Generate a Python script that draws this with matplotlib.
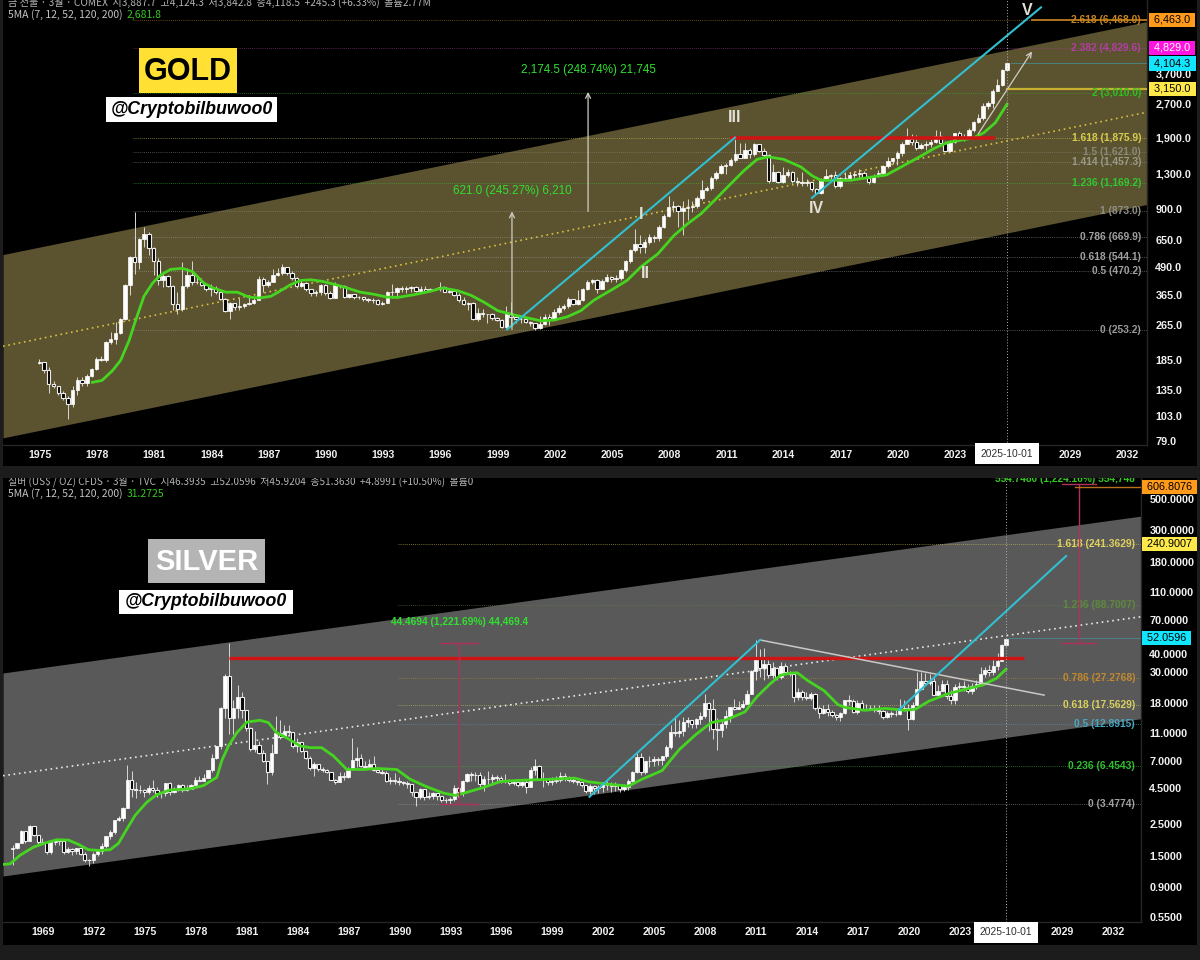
"""Gold and silver quarterly charts with channels and fib levels."""

import numpy as np
import matplotlib
matplotlib.use("Agg")
import matplotlib.pyplot as plt
from matplotlib.patches import Rectangle

W, H = 1200, 960
LABEL_FONT = "Liberation Sans"
HEADER_FONT = ["Noto Sans CJK KR", "DejaVu Sans"]

# Gold, quarterly from 1975
gold_first_year = 1974.96
gold_close = [
    180, 167, 143, 140, 131, 124, 116, 135, 150, 145, 156, 168, 187, 184, 222, 229, 245, 283, 405, 540,
    516, 654, 686, 596, 522, 427, 442, 398, 331, 315, 401, 451, 419, 419, 405, 388, 393, 376, 350, 307,
    334, 320, 326, 330, 334, 344, 432, 405, 419, 449, 457, 487, 457, 434, 398, 412, 386, 372, 376, 403,
    372, 354, 405, 398, 357, 367, 357, 357, 350, 346, 344, 331, 336, 376, 376, 393,
    386, 390, 394, 379, 389, 381, 386, 386, 396, 377, 379, 363, 346, 332, 335, 284, 303, 300, 300, 286,
    280, 260, 300, 289, 282, 284, 274, 271, 258, 268, 289, 284,
    306, 317, 324, 351, 331, 345, 387, 417, 425, 387, 421, 440, 430, 437, 471, 519, 584, 618, 601, 637,
    667, 660, 745, 835, 917, 925, 875, 905, 917, 925, 1005, 1090, 1112, 1244, 1300, 1405, 1420, 1490, 1600, 1532,
    1655, 1586, 1760, 1642, 1575, 1202, 1320, 1190, 1280, 1320, 1195, 1183, 1170, 1183, 1100, 1060, 1220, 1270, 1275, 1140,
    1235, 1235, 1280, 1288, 1310, 1244, 1183, 1270, 1300, 1405, 1475, 1520, 1612, 1770,
    1860, 1810, 1690, 1750, 1763, 1810, 1922, 1793, 1644, 1810, 1974, 1887, 1900, 2045, 2222, 2326, 2640, 2716, 3090, 3263,
    3850, 4118.5,
]
gold_high = [
    187, 180, 172, 148, 141, 133, 126, 141, 155, 155, 160, 169, 190, 192, 224, 248, 274, 287, 410, 545,
    868, 663, 742, 702, 600, 535, 463, 447, 403, 376, 512, 483, 522, 447, 436, 403, 408, 402, 376, 353,
    338, 334, 353, 334, 362, 353, 442, 438, 427, 479, 483, 504, 490, 468, 438, 424, 417, 389, 385, 410,
    408, 380, 417, 403, 403, 368, 368, 362, 356, 353, 353, 350, 341, 381, 410, 395,
    402, 402, 402, 399, 402, 402, 392, 392, 419, 401, 392, 384, 370, 355, 337, 340, 317, 314, 300, 303,
    290, 283, 325, 337, 300, 293, 290, 276, 273, 293, 298, 298,
    313, 327, 333, 357, 347, 385, 392, 428, 432, 432, 430, 455, 443, 448, 480, 526, 590, 727, 679, 655,
    686, 679, 761, 850, 1022, 976, 936, 969, 993, 976, 1028, 1209, 1141, 1266, 1334, 1429, 1445, 1522, 1925, 1795,
    1795, 1700, 1783, 1770, 1690, 1586, 1429, 1334, 1390, 1358, 1334, 1252, 1312, 1222, 1170, 1114, 1235, 1358, 1297, 1326,
    1252, 1312, 1312, 1334, 1358, 1334, 1252, 1288, 1342, 1420, 1543, 1532, 1642, 1810,
    2080, 1955, 1942, 1790, 1825, 1860, 2056, 2023, 1825, 1838, 1990, 2035, 1955, 2100, 2247, 2407, 2717, 2766, 3158, 3497,
    3890, 4124.3,
]
gold_low = [
    177, 161, 130, 137, 128, 122, 100, 113, 128, 140, 141, 155, 166, 183, 180, 218, 217, 241, 280, 365,
    454, 477, 600, 555, 447, 403, 395, 395, 310, 299, 308, 393, 403, 408, 398, 380, 362, 368, 345, 304,
    284, 310, 310, 318, 327, 330, 345, 376, 395, 417, 442, 451, 451, 427, 393, 395, 381, 362, 362, 366,
    366, 350, 353, 390, 353, 353, 350, 349, 341, 338, 334, 329, 328, 334, 353, 353,
    375, 370, 375, 375, 373, 379, 381, 384, 381, 375, 370, 362, 337, 328, 311, 281, 278, 290, 273, 281,
    276, 257, 257, 264, 271, 273, 271, 264, 253, 256, 267, 267,
    280, 300, 311, 319, 327, 327, 342, 383, 407, 372, 387, 415, 417, 417, 425, 465, 508, 570, 564, 564,
    622, 633, 640, 735, 826, 865, 740, 679, 798, 865, 905, 982, 1076, 1090, 1209, 1288, 1288, 1405, 1470, 1522,
    1532, 1522, 1559, 1632, 1540, 1180, 1195, 1170, 1180, 1252, 1170, 1140, 1140, 1140, 1083, 1046, 1046, 1202, 1202, 1121,
    1121, 1202, 1212, 1244, 1244, 1235, 1161, 1172, 1252, 1266, 1381, 1429, 1420, 1559,
    1763, 1750, 1668, 1676, 1655, 1712, 1793, 1770, 1618, 1644, 1793, 1860, 1825, 1887, 2003, 2210, 2277, 2562, 2580, 3074,
    3235, 3842.8,
]
gold_ma_year = [
    1977.75, 1978.25, 1978.8, 1979.23, 1979.67, 1980.0, 1980.45, 1980.9, 1981.33, 1981.85, 1982.47, 1983.0,
    1983.6, 1984.1, 1984.75, 1985.35, 1985.96, 1986.5, 1987.1, 1987.6, 1988.15, 1988.67, 1989.2, 1989.8,
    1990.4, 1991.1, 1991.8, 1992.5, 1993.2, 1993.74, 1994.6, 1995.5, 1996.1, 1996.9, 1997.6, 1998.3, 1999.0,
    1999.9, 2000.6, 2001.26, 2001.96, 2002.66, 2003.36, 2004.05, 2005.1, 2005.8, 2006.5, 2007.4, 2008.25,
    2008.95, 2009.65, 2010.35, 2011.2, 2011.9, 2012.6, 2013.2, 2014.0, 2014.9, 2015.5, 2015.95, 2016.65,
    2017.5, 2018.4, 2019.4, 2020.1, 2021.2, 2021.9, 2022.6, 2023.6, 2023.97, 2024.5, 2025.1, 2025.71,
]
gold_ma = [
    146, 149, 165, 184, 226, 277, 359, 412, 449, 476, 481, 465,
    412, 391, 375, 375, 356, 353, 359, 380, 406, 424, 427, 420,
    408, 392, 375, 367, 356, 355, 365, 379, 392, 381, 363, 337, 309,
    295, 286, 278, 280, 290, 309, 345, 390, 425, 488, 560, 679,
    766, 850, 976, 1160, 1334, 1505, 1545, 1505, 1390, 1266, 1209, 1209,
    1209, 1244, 1280, 1381, 1559, 1690, 1795, 1860, 1887, 1990, 2210, 2681.8,
]
gold_xticks = [1975, 1978, 1981, 1984, 1987, 1990, 1993, 1996, 1999, 2002, 2005, 2008, 2011, 2014, 2017, 2020, 2023, 2029, 2032]
gold_yticks = [3700, 2700, 1900, 1300, 900, 650, 490, 365, 265, 185, 135, 103, 79]
gold_ylabels = ["3,700.0", "2,700.0", "1,900.0", "1,300.0", "900.0", "650.0", "490.0", "365.0", "265.0", "185.0", "135.0", "103.0", "79.0"]
gold_fib_values = [6468.0, 4829.6, 3010.0, 1875.9, 1621.0, 1457.3, 1169.2, 873.0, 669.9, 544.1, 470.2, 253.2]
gold_fib_labels = ["2.618 (6,468.0)", "2.382 (4,829.6)", "2 (3,010.0)", "1.618 (1,875.9)", "1.5 (1,621.0)", "1.414 (1,457.3)",
                   "1.236 (1,169.2)", "1 (873.0)", "0.786 (669.9)", "0.618 (544.1)", "0.5 (470.2)", "0 (253.2)"]
gold_fib_colors = ["#c8841e", "#b040a0", "#2fc020", "#d8cc50", "#8a8a7a", "#9a9a8a",
                   "#30c830", "#8f8f85", "#a0a0a0", "#a0a0a0", "#a0a0a0", "#9a9a9a"]

# Silver, quarterly from 1967
silver_first_year = 1967.21
silver_close = [
    1.69, 1.83, 2.25, 1.90, 2.44, 2.1, 1.88, 1.87, 1.60, 1.88, 1.95, 1.90, 1.60, 1.66, 1.62, 1.69, 1.55, 1.40, 1.39, 1.55,
    1.62, 1.76, 2.05, 2.21, 2.67, 2.78, 3.27, 5.13, 4.43, 4.4, 4.4, 4.2, 4.5, 4.4, 4.15, 4.17, 4.9, 4.2, 4.4, 4.7,
    4.4, 4.45, 4.7, 5.1, 5.05, 5.3, 6.0, 7.35, 8.9, 16.5, 28, 14, 16.5, 20, 16, 12, 8.5, 9.1, 8.0, 7.0,
    5.9, 8.0, 11, 10.4, 11.5, 11.2, 9.0, 9.5, 8.2, 7.4, 6.2, 6.65, 6.1, 6.0, 5.85, 5.15, 5.0, 5.5, 5.4, 6.15,
    7.1, 7.4, 6.5, 6.4, 6.65, 6.0, 5.9, 5.8, 5.05, 5.1, 5.05, 5.0, 4.9, 4.8, 4.2, 3.9, 4.45, 3.9, 3.95, 4.15,
    3.95, 3.72, 3.7, 3.8, 4.5, 4.2, 5.05, 5.7, 5.6, 5.55, 4.8, 5.2, 5.2, 5.4, 5.3,
    5.1, 5.05, 4.9, 5.0, 4.7, 4.95, 4.6, 6.0, 6.45, 5.2, 5.2, 4.95, 5.05, 5.15, 5.45,
    5.35, 5.15, 5.05, 4.95, 4.75, 4.3, 4.65, 4.5, 4.6, 4.75, 4.75, 4.65, 4.7, 4.45, 4.6, 5.05, 5.9, 7.5, 5.85, 7.0,
    7.0, 7.2, 7.1, 7.6, 8.8, 11.3, 11, 11.5, 13.2, 13.7, 12.9, 13.9, 14.7, 17.9, 16.3, 11.8, 11.6, 12.9, 14.6, 16.9,
    16.3, 17, 17.7, 21, 30.2, 36.7, 31.7, 34, 28.5, 31.9, 27.4, 33, 30, 29, 19.9, 21.5, 20, 19.5, 20.9, 16.5,
    15.3, 16.4, 15.6, 14.9, 14.4, 15.2, 18.9, 18.6, 15.5, 18, 16.1, 16.3, 16.5, 16, 15.7, 14.3, 15.2, 15, 15, 16.3,
    16.5, 13.9, 17.4, 22.6, 26, 25, 26, 20.5, 22, 24.6, 20.3, 18.9, 23.3, 23.8, 23.3, 22, 23.8, 24.6, 29, 31,
    30, 33, 35.6, 46.46, 51.36,
]
silver_high = [
    1.78, 1.83, 2.27, 2.25, 2.47, 2.25, 2.0, 2.0, 1.78, 1.88, 1.96, 1.95, 1.90, 1.72, 1.71, 1.71, 1.71, 1.58, 1.41, 1.58,
    1.64, 1.85, 2.07, 2.27, 2.68, 2.87, 3.29, 6.6, 5.98, 4.95, 4.7, 4.45, 4.7, 5.1, 4.56, 4.2, 4.85, 4.95, 4.56, 4.85,
    4.85, 4.7, 4.85, 5.4, 5.5, 5.67, 6.05, 7.8, 8.5, 16.9, 29.1, 48.2, 18.8, 24, 21.6, 16, 12.1, 11.5, 9.77, 8.4,
    7.05, 9.25, 14.5, 13.6, 12.5, 12.5, 10.3, 10.2, 9.5, 8.3, 7.65, 6.85, 6.6, 6.32, 6.15, 5.82, 5.2, 5.82, 5.82, 6.32,
    10.2, 8.76, 7.86, 7.05, 7.25, 7.65, 6.32, 6.15, 5.93, 5.37, 5.72, 5.37, 5.08, 5.08, 4.81, 4.13, 4.5, 4.36, 4.2, 4.26,
    4.13, 3.97, 3.83, 3.87, 4.7, 4.56, 5.15, 5.72, 5.82, 5.82, 5.82, 5.5, 5.98, 5.67, 5.62,
    5.52, 5.67, 5.22, 5.14, 5.08, 5.08, 5.22, 6.32, 7.25, 6.6, 5.82, 5.22, 5.37, 5.52, 5.82,
    5.72, 5.52, 5.37, 5.08, 4.95, 4.7, 4.81, 4.76, 4.76, 4.95, 5.08, 4.95, 4.95, 4.81, 4.81, 5.22, 5.98, 8.1, 7.95, 7.05,
    7.65, 7.65, 7.5, 7.65, 9.1, 12.5, 14.7, 13.6, 14.3, 14.3, 13.7, 14.1, 15.5, 21, 18.3, 19.1, 14, 13.6, 16, 16.9,
    19.3, 18.5, 19, 22.2, 31.1, 50.3, 43.2, 44, 36.3, 35.3, 32.5, 35.3, 34.8, 30.4, 28.8, 23.2, 22.2, 21.6, 21.6, 21.2,
    17.1, 17.4, 17.6, 16, 15.1, 15.5, 19, 20.5, 19.3, 18.8, 18.8, 17.8, 17.4, 17.4, 17.4, 16, 15.8, 15.8, 16, 19.3,
    18.8, 17.8, 18.3, 30, 30, 29.3, 29.1, 26.9, 24, 26.4, 26.1, 22.2, 24.7, 25.4, 25.8, 24.7, 25, 26.1, 32.5, 32.5,
    33.4, 36.3, 40.4, 47, 52.06,
]
silver_low = [
    1.29, 1.67, 1.83, 1.85, 2.27, 2.07, 1.8, 1.8, 1.53, 1.53, 1.78, 1.78, 1.53, 1.57, 1.52, 1.53, 1.52, 1.36, 1.27, 1.32,
    1.49, 1.53, 1.70, 1.96, 2.12, 2.62, 2.64, 3.26, 3.87, 3.83, 4.13, 3.9, 4.08, 4.2, 3.9, 3.83, 3.97, 4.05, 4.13, 4.31,
    4.26, 4.31, 4.45, 4.7, 5.15, 5.2, 5.4, 5.82, 7.25, 8.45, 14, 10.9, 10.9, 14, 14, 11.5, 8.3, 8.1, 7.86, 6.85,
    4.85, 5.6, 8.1, 10, 10.3, 10.7, 8.65, 8.1, 8.1, 7.25, 6.05, 5.5, 5.93, 5.82, 5.72, 5.15, 4.85, 4.95, 5.15, 5.3,
    6.05, 6.32, 6.32, 6.15, 6.25, 5.93, 5.72, 5.67, 4.95, 4.85, 4.81, 4.76, 4.7, 4.5, 3.97, 3.38, 3.77, 3.7, 3.74, 3.74,
    3.7, 3.57, 3.52, 3.47, 3.66, 3.87, 3.97, 4.95, 5.08, 5.08, 4.56, 4.31, 4.76, 4.85, 4.95,
    4.86, 4.86, 4.73, 4.7, 4.56, 4.56, 4.13, 4.86, 5.6, 5.14, 4.56, 4.7, 4.76, 4.86, 5.0,
    5.08, 4.95, 4.86, 4.76, 4.56, 4.13, 4.08, 4.08, 4.13, 4.26, 4.36, 4.26, 4.31, 4.26, 4.31, 4.36, 4.95, 5.72, 5.6, 5.67,
    6.4, 6.5, 6.6, 6.6, 7.36, 8.5, 10.6, 10.3, 10.6, 12.2, 11.9, 12, 12.9, 14.1, 11.5, 10, 8.4, 10.4, 11.9, 13.2,
    16, 16.4, 16.6, 17.8, 21.2, 26.1, 27.6, 26.1, 26.9, 27.3, 26.4, 26.5, 29.3, 27.8, 18.3, 18.8, 19, 18.8, 19, 16.2,
    14, 15.1, 14.7, 14.3, 13.6, 13.5, 15, 17.4, 15.3, 15.1, 16.2, 16, 16.2, 15.5, 15.1, 13.8, 14.1, 14.3, 14.6, 14.8,
    15.8, 11.7, 13.6, 17.5, 22.4, 24, 24, 20.9, 20.7, 21.8, 19.3, 17.6, 17.6, 22, 21.8, 21.2, 20.9, 22.8, 24.4, 27.6,
    27.8, 28.3, 31, 35.9, 45.92,
]
silver_ma_year = [
    1966.7, 1967.06, 1967.65, 1968.43, 1969.12, 1969.8, 1970.5, 1971.08, 1971.67, 1972.36, 1972.95, 1973.44,
    1973.83, 1974.42, 1975.11, 1975.7, 1976.48, 1977.66, 1978.44, 1979.23, 1979.52, 1979.92, 1980.41, 1981.0,
    1981.78, 1982.27, 1982.76, 1983.35, 1984.14, 1984.73, 1985.41, 1986.1, 1986.89, 1987.87, 1988.65, 1989.83,
    1990.62, 1991.6, 1992.58, 1993.27, 1993.95, 1994.93, 1995.91, 1996.9, 1997.9, 1998.9, 2000.3, 2001.08,
    2002.28, 2003.47, 2004.27, 2005.46, 2006.45, 2007.45, 2008.35, 2009.24, 2010.33, 2011.03, 2011.83, 2012.42,
    2013.02, 2013.42, 2014.0, 2015.0, 2015.8, 2016.2, 2017.4, 2018.6, 2019.8, 2020.38, 2021.18, 2022.37,
    2023.37, 2024.36, 2025.16, 2025.71,
]
silver_ma = [
    1.30, 1.31, 1.51, 1.72, 1.84, 1.94, 1.93, 1.80, 1.65, 1.63, 1.65, 1.83,
    2.20, 2.89, 3.58, 4.05, 4.37, 4.45, 4.69, 5.37, 7.03, 8.96, 11.1, 13.2,
    13.6, 13.1, 11.1, 10.2, 8.95, 8.7, 8.7, 7.6, 6.1, 6.1, 6.2, 6.1,
    5.2, 4.6, 4.15, 4.0, 4.2, 4.55, 5.0, 5.1, 5.15, 5.2, 5.3, 5.0,
    4.8, 4.65, 5.2, 6.0, 8.4, 10.8, 13.1, 13.7, 15.6, 19.9, 24.7, 28.3,
    29.3, 29.5, 26.1, 22, 17.6, 16.8, 16.0, 16.5, 16, 16.3, 18.6, 21.1,
    22.6, 24.2, 27, 31.27,
]
silver_xticks = [1969, 1972, 1975, 1978, 1981, 1984, 1987, 1990, 1993, 1996, 1999, 2002, 2005, 2008, 2011, 2014, 2017, 2020, 2023, 2029, 2032]
silver_yticks = [500, 300, 180, 110, 70, 40, 30, 18, 11, 7, 4.5, 2.5, 1.5, 0.9, 0.55]
silver_ylabels = ["500.0000", "300.0000", "180.0000", "110.0000", "70.0000", "40.0000", "30.0000", "18.0000", "11.0000",
                  "7.0000", "4.5000", "2.5000", "1.5000", "0.9000", "0.5500"]
silver_fib_values = [241.3629, 88.7007, 27.2768, 17.5629, 12.8915, 6.4543, 3.4774]
silver_fib_labels = ["1.618 (241.3629)", "1.236 (88.7007)", "0.786 (27.2768)", "0.618 (17.5629)", "0.5 (12.8915)", "0.236 (6.4543)", "0 (3.4774)"]
silver_fib_colors = ["#e0d060", "#5e8a40", "#c08a30", "#d8d060", "#4aa6c0", "#30c030", "#a0a0a0"]


def px_rect(x0, y0, x1, y1):
    return [x0 / W, 1 - y1 / H, (x1 - x0) / W, (y1 - y0) / H]


def make_axes(fig, rect, xlim, ylim, xticks, yticks, ylabels):
    ax = fig.add_axes(px_rect(*rect), facecolor="black")
    ax.set_yscale("log")
    ax.set_xlim(*xlim)
    ax.set_ylim(*ylim)
    ax.yaxis.tick_right()
    ax.minorticks_off()
    ax.set_yticks(yticks, ylabels)
    ax.set_xticks(xticks, [str(t) for t in xticks])
    ax.tick_params(axis="y", length=0, pad=6, colors="#f0f0f0", labelsize=7.8)
    ax.tick_params(axis="x", length=0, pad=3.5, colors="#f0f0f0", labelsize=7.6)
    for lab in ax.get_xticklabels() + ax.get_yticklabels():
        lab.set_fontweight("bold")
        lab.set_family(LABEL_FONT)
    for side, spine in ax.spines.items():
        spine.set_color("#262626")
        spine.set_linewidth(1)
    ax.spines["left"].set_visible(False)
    ax.spines["top"].set_visible(False)
    return ax


def draw_candles(ax, first_year, close, high, low, body_w):
    close = np.array(close, dtype=float)
    high = np.array(high, dtype=float)
    low = np.array(low, dtype=float)
    years = first_year + 0.25 * np.arange(len(close))
    opens = np.r_[close[0] * 0.99, close[:-1]]
    top = np.maximum(opens, close)
    bot = np.minimum(opens, close)
    ax.vlines(years, np.minimum(low, bot), np.maximum(high, top), color="#d8d8d8", lw=0.7, zorder=4)
    up = close >= opens
    ax.bar(years[up], top[up] - bot[up], body_w, bot[up], color="white", edgecolor="white", lw=0.5, zorder=5)
    ax.bar(years[~up], top[~up] - bot[~up], body_w, bot[~up], color="black", edgecolor="#ececec", lw=0.8, zorder=5)


def draw_fibs(ax, x_start, x_label, values, labels, colors):
    trans = ax.get_yaxis_transform()
    for v, lab, c in zip(values, labels, colors):
        ax.plot([x_start, ax.get_xlim()[1]], [v, v], color=c, lw=0.6, ls=(0, (1, 1.5)), alpha=0.7, zorder=2)
        ax.text(x_label, v, lab, color=c, fontsize=7.4, fontweight="bold", family=LABEL_FONT,
                ha="right", va="center", transform=trans, zorder=8)


def price_tag(ax, value, text, bg, fg="black", x_off=2):
    # the spaces widen the box the way the price tags look on the chart
    ax.annotate(f" {text} ", xy=(1, value), xycoords=("axes fraction", "data"), xytext=(x_off, 0),
                textcoords="offset points", color=fg, fontsize=7.8, family=LABEL_FONT,
                ha="left", va="center", annotation_clip=False, zorder=12,
                bbox=dict(boxstyle="square,pad=0.2", fc=bg, ec="none"))


def title_box(fig, x0, y0, x1, y1, bg):
    fig.add_artist(Rectangle((x0 / W, 1 - y1 / H), (x1 - x0) / W, (y1 - y0) / H,
                             transform=fig.transFigure, fc=bg, ec="none", zorder=20))


def box_text(fig, x, y, s, size, color, style="normal", weight="bold"):
    fig.text(x / W, 1 - y / H, s, fontsize=size, color=color, ha="center", va="center", style=style,
             fontweight=weight, family=LABEL_FONT, zorder=21)


def channel(ax, xlim, top, bottom, mid, fill, mid_color):
    ax.fill_between(xlim, bottom, top, color=fill, lw=0, zorder=1)
    ax.plot(xlim, mid, color=mid_color, lw=1.2, ls=(0, (1, 2.2)), zorder=3)


def date_tag(ax, x, off, text="2025-10-01"):
    ax.axvline(x, color="#b0b0b0", lw=0.7, ls=(0, (1, 2)), zorder=9)
    ax.annotate(text, xy=(x, 0), xycoords=("data", "axes fraction"), xytext=(0, off), textcoords="offset points",
                ha="center", va="center", fontsize=7.4, color="#303030", family=LABEL_FONT, annotation_clip=False,
                zorder=12, bbox=dict(boxstyle="square,pad=0.55", fc="white", ec="none"))


def header(ax, y_main, y_ma, line1, size1, ma_text, ma_val, x_val):
    ax.text(0.0044, y_main, line1, transform=ax.transAxes, color="#b4b4b4", fontsize=size1, family=HEADER_FONT,
            va="center", ha="left", clip_on=True, zorder=10)
    ax.text(0.0044, y_ma, ma_text, transform=ax.transAxes, color="#c4c4c4", fontsize=7.5, family=HEADER_FONT,
            va="center", ha="left", zorder=10)
    ax.text(x_val, y_ma, ma_val, transform=ax.transAxes, color="#35c820", fontsize=7.5, family=HEADER_FONT,
            va="center", ha="left", zorder=10)


def plot_gold(fig):
    xlim = (1973.06, 2033.05)
    ax = make_axes(fig, (3, 0, 1147, 445), xlim, (75.8, 7973), gold_xticks, gold_yticks, gold_ylabels)
    channel(ax, xlim, [556, 6361], [81.7, 939], [213, 2464], "#5b5230", "#d8c040")
    draw_fibs(ax, 1979.9, 0.9948, gold_fib_values, gold_fib_labels, gold_fib_colors)
    ax.plot([2027.0, xlim[1]], [6468, 6468], color="#b87a20", lw=1.3, zorder=3)
    ax.plot([2025.71, xlim[1]], [3150, 3150], color="#c8b030", lw=1.6, zorder=3)
    ax.plot([2025.9, xlim[1]], [4104.3, 4104.3], color="#4a8a90", lw=0.6, zorder=3)

    ax.plot(gold_ma_year, gold_ma, color="#45d420", lw=2.0, zorder=6)
    draw_candles(ax, gold_first_year, gold_close, gold_high, gold_low, 0.18)

    ax.plot([2011.18, 2025.08], [1880, 1880], color="#d01414", lw=2.6, zorder=7, solid_capstyle="butt")
    ax.plot([1999.49, 2011.44], [254, 1890], color="#30c0d0", lw=1.5, zorder=7)
    ax.plot([2015.48, 2027.49], [1006, 7380], color="#30c0d0", lw=1.5, zorder=7)
    for a, b in [((2024.19, 1960), (2027.02, 4654)), ((1999.75, 254), (1999.75, 873)), ((2003.74, 873), (2003.74, 3047))]:
        ax.annotate("", xy=b, xytext=a, zorder=8,
                    arrowprops=dict(arrowstyle="->", color="#cfcfc4", lw=0.9, shrinkA=0, shrinkB=0, mutation_scale=9))
    ax.text(1999.75, 1082, "621.0 (245.27%) 6,210", color="#30e030", fontsize=8.4, family=LABEL_FONT, ha="center", va="center", zorder=8)
    ax.text(2003.74, 3818, "2,174.5 (248.74%) 21,745", color="#30e030", fontsize=8.4, family=LABEL_FONT, ha="center", va="center", zorder=8)
    for s, x, y in [("I", 2006.52, 841), ("II", 2006.73, 456), ("III", 2011.44, 2340), ("IV", 2015.74, 897), ("V", 2026.75, 7150)]:
        ax.text(x, y, s, color="#e0e0d4", fontsize=11.5, family=LABEL_FONT, fontweight="bold", ha="center", va="center", zorder=9)

    date_tag(ax, 2025.71, -6.2)
    header(ax, 1 - 2 / 445, 1 - 15 / 445, "금 선물 · 3월 · COMEX  시3,887.7  고4,124.3  저3,842.8  종4,118.5  +245.3 (+6.33%)  볼륨2.77M", 7.3,
           "5MA (7, 12, 52, 120, 200)", "2,681.8", 124 / 1144)

    price_tag(ax, 6468, "6,463.0", "#ff9a1a", x_off=3)
    price_tag(ax, 4829, "4,829.0", "#ff14e0", "white", x_off=3)
    price_tag(ax, 4104.3, "4,104.3", "#12e6ff", x_off=3)
    price_tag(ax, 3150, "3,150.0", "#ffe84a", x_off=3)


def plot_silver(fig):
    xlim = (1966.64, 2033.66)
    ax = make_axes(fig, (3, 478, 1141, 922), xlim, (0.508, 705), silver_xticks, silver_yticks, silver_ylabels)
    channel(ax, xlim, [29.4, 379], [1.075, 13.95], [5.51, 73.5], "#595959", "#e8e8e8")
    draw_fibs(ax, 1989.9, 0.9948, silver_fib_values, silver_fib_labels, silver_fib_colors)
    ax.plot([2025.9, xlim[1]], [52.06, 52.06], color="#4a8a90", lw=0.6, zorder=3)

    ax.plot(silver_ma_year, silver_ma, color="#45d420", lw=2.0, zorder=6)
    draw_candles(ax, silver_first_year, silver_close, silver_high, silver_low, 0.19)

    ax.plot([1979.95, 2026.77], [37.5, 37.5], color="#d01414", lw=2.4, zorder=7, solid_capstyle="butt")
    ax.plot([2011.23, 2027.95], [50.3, 20.5], color="#c8c8c8", lw=1.1, zorder=7)
    ax.plot([2001.18, 2011.23], [3.91, 50.3], color="#30c0d0", lw=1.5, zorder=7)
    ax.plot([2019.39, 2029.25], [16.07, 197.7], color="#30c0d0", lw=1.5, zorder=7)

    # measure brackets
    pink = "#b0305e"
    ax.plot([1993.5, 1993.5], [3.4774, 47.95], color=pink, lw=1, zorder=8)
    ax.plot([1992.4, 1994.6], [47.95, 47.95], color=pink, lw=1, zorder=8)
    ax.plot([1992.4, 1994.6], [3.4774, 3.4774], color=pink, lw=1, zorder=8)
    ax.plot([2030.0, 2030.0], [47.9, 639], color=pink, lw=1, zorder=8)
    ax.plot([2029.0, 2031.0], [639, 639], color=pink, lw=1, zorder=8)
    ax.plot([2029.0, 2031.0], [47.9, 47.9], color=pink, lw=1, zorder=8)
    ax.plot([2029.8, xlim[1]], [606.8, 606.8], color="#b8701c", lw=1, zorder=8)
    ax.text(1993.5, 67.4, "44.4694 (1,221.69%) 44,469.4", color="#30e030", fontsize=7.3, family=LABEL_FONT, fontweight="bold", ha="center", va="center", zorder=8)
    ax.text(0.9948, 1 - 1 / 444, "554.7480 (1,224.16%) 554,748", color="#35c820", fontsize=7.3, family=LABEL_FONT, fontweight="bold",
            ha="right", va="center", transform=ax.transAxes, clip_on=True, zorder=8)

    date_tag(ax, 2025.71, -7.4)
    header(ax, 1 - 3 / 444, 1 - 16 / 444, "실버 (US$ / OZ) CFDS · 3월 · TVC  시46.3935  고52.0596  저45.9204  종51.3630  +4.8991 (+10.50%)  볼륨0", 7.2,
           "5MA (7, 12, 52, 120, 200)", "31.2725", 124 / 1138)

    price_tag(ax, 606.8076, "606.8076", "#ff9a1a")
    price_tag(ax, 240.9007, "240.9007", "#ffe84a")
    price_tag(ax, 52.0596, "52.0596", "#12e6ff")


def main():
    fig = plt.figure(figsize=(W / 100, H / 100), dpi=100, facecolor="#1c1c1c")
    # black panes behind both charts, dark strips stay between them
    for y0, y1 in [(0, 466), (478, 945)]:
        fig.add_artist(Rectangle((3 / W, 1 - y1 / H), 1194 / W, (y1 - y0) / H, transform=fig.transFigure,
                                 fc="black", ec="none", zorder=0))
    plot_gold(fig)
    plot_silver(fig)

    title_box(fig, 139, 48, 237, 93, "#ffe033")
    box_text(fig, 188, 72, "GOLD", 22, "black")
    title_box(fig, 106, 97, 277, 122, "white")
    box_text(fig, 191.5, 110, "@Cryptobilbuwoo0", 12.8, "black", style="italic")
    title_box(fig, 148, 539, 265, 583, "#b4b4b4")
    box_text(fig, 206.5, 562, "SILVER", 21, "white")
    title_box(fig, 119, 590, 293, 614, "white")
    box_text(fig, 206, 602, "@Cryptobilbuwoo0", 12.8, "black", style="italic")

    fig.savefig("out.png", dpi=100, facecolor=fig.get_facecolor())


if __name__ == "__main__":
    main()
